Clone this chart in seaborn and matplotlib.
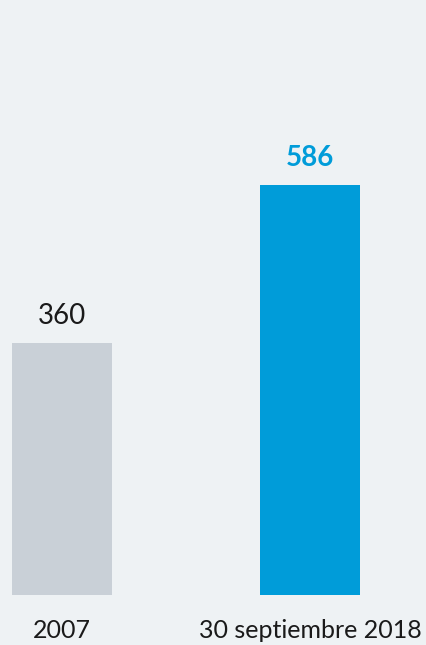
import seaborn as sns
import matplotlib.pyplot as plt
import pandas as pd

categories = ["2007", "30 septiembre 2018"]
values = [360, 586]
colors = ["#c9d0d7", "#009cd9"]
label_colors = ["#1a1a1a", "#009cd9"]
label_weights = ["normal", "bold"]

df = pd.DataFrame({"periodo": categories, "valor": values})

sns.set_theme(style="white")
plt.rcParams["font.family"] = ["Lato", "DejaVu Sans"]

bg = "#eef2f4"
fig = plt.figure(figsize=(4.26, 6.45), dpi=100, facecolor=bg)
ax = fig.add_axes([0, 50 / 645, 1, 595 / 645])
ax.set_facecolor(bg)

sns.barplot(
    data=df,
    x="periodo",
    y="valor",
    hue="periodo",
    palette=colors,
    saturation=1,
    width=0.403,
    linewidth=0,
    legend=False,
    ax=ax,
)

ax.set_xlim(-0.25, 1.468)
ax.set_ylim(0, 850)

for cont, col, w in zip(ax.containers, label_colors, label_weights):
    ax.bar_label(cont, fmt="%d", padding=10, fontsize=20, color=col, fontweight=w)

ax.set_xlabel("")
ax.set_ylabel("")
ax.set_yticks([])
ax.tick_params(axis="x", length=0, pad=17, labelsize=18, labelcolor="#1a1a1a")
sns.despine(ax=ax, left=True, bottom=True)

plt.savefig("out.png", dpi=100, facecolor=bg)
